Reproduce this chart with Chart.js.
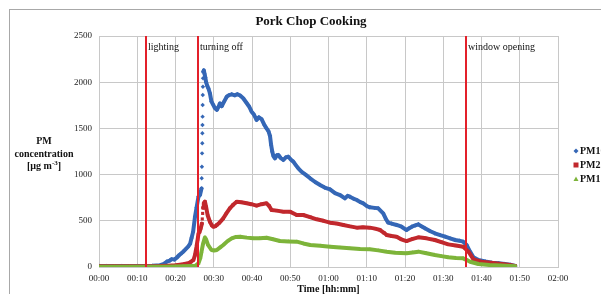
<!DOCTYPE html>
<html>
<head>
<meta charset="utf-8">
<script src="https://cdn.jsdelivr.net/npm/chart.js@4/dist/chart.umd.min.js"></script>
<style>
  html, body { margin: 0; padding: 0; background: #fff; }
  #wrap { width: 601px; height: 294px; position: relative; }
</style>
</head>
<body>
<div id="wrap"><canvas id="pmChart"></canvas></div>
<script>
// Waktu dalam menit sejak mulai, nilai dalam µg m-3
const pm10Minutes = [0, 2, 4, 6, 8, 10, 12, 14, 16, 17, 17.7, 18.5, 19, 19.7, 20.3, 21, 21.6, 22, 22.6, 23.3, 23.8, 24.2, 24.6, 25.1, 25.5, 26, 26.4, 26.8,
  26.85, 26.9, 26.95, 27.0, 27.02, 27.05, 27.08, 27.1, 27.13, 27.17, 27.2, 27.25, 27.4, 27.6, 27.8, 28.0, 28.3, 28.6, 29.0, 29.4, 29.8, 30.3, 30.8,
  31.2, 31.6, 32.1, 32.7, 33.4, 34.0, 34.7, 35.5, 36.2, 36.9, 37.7, 38.5, 39.2, 39.9, 40.5, 41.2, 41.8, 42.5, 43.2, 43.8, 44.3, 44.7, 45.0, 45.3,
  45.6, 46.0, 46.5, 46.9, 47.5, 48.2, 48.8, 49.5, 50.2, 50.8, 51.5, 52.1, 53, 54, 55.2, 56.5, 57.8, 59, 60.4, 61.7, 63, 64.3, 65, 65.6, 66.5, 67.4,
  68.2, 69.1, 70, 70.8, 72, 73, 74.3, 75, 75.6, 76.5, 77.8, 79.1, 80.4, 81.1, 81.8, 82.7, 83.5, 84.3, 85.2, 86.5, 87.8, 89.2, 90.5, 91.8, 93.1,
  94.2, 95.2, 96.1, 97, 97.9, 99.2, 101, 102.7, 104.5, 106.1, 107.5, 108.8];
const pm10Values = [12, 12, 10, 12, 10, 12, 12, 14, 20, 35, 57, 70, 85, 80, 100, 130, 150, 165, 190, 220, 250, 314, 380, 545, 640, 760, 780, 850,
  960, 1085, 1230, 1340, 1447, 1537, 1627, 1753, 1861, 1951, 2042, 2114, 2130, 2090, 2050, 2000, 1960, 1934, 1880, 1790, 1760, 1720, 1700,
  1730, 1770, 1740, 1790, 1843, 1860, 1869, 1858, 1870, 1855, 1826, 1780, 1740, 1681, 1650, 1591, 1620, 1600, 1540, 1500, 1470, 1420, 1320, 1248,
  1200, 1176, 1210, 1212, 1180, 1158, 1185, 1194, 1160, 1140, 1100, 1068, 1030, 1000, 960, 920, 887, 860, 841, 800, 779, 743, 770, 761, 740, 725,
  705, 689, 660, 646, 640, 635, 581, 520, 480, 470, 455, 436, 400, 420, 436, 450, 462, 440, 419, 390, 365, 345, 328, 310, 292,
  285, 274, 238, 166, 105, 76, 60, 47, 40, 32, 25, 11];

const pm25Minutes = [0, 4, 8, 12, 16, 18, 20, 20.7, 22, 23.3, 24, 24.7, 25.1, 25.5, 25.8, 26.0, 26.3, 26.6, 26.9, 27.0, 27.1, 27.2, 27.4, 27.7,
  28.0, 28.4, 29.0, 29.5, 29.9, 30.4, 30.8, 31.5, 32.5, 33.3, 34.2, 35.0, 36, 37.2, 38.6, 39.8, 41.2, 42.5, 43.8, 44.5, 45.1, 46.5, 48.2, 49.9,
  51.7, 53.4, 55.2, 56.9, 58.7, 60.4, 62.1, 63.9, 65.6, 67.4, 69, 70.8, 72.2, 73.5, 74.5, 75.2, 76.5, 77.8, 79, 80.4, 82, 83.5, 85.6, 87.8, 89.5,
  91.3, 93.3, 95.2, 96.6, 97.9, 100, 102.5, 105.3, 107, 108.8];
const pm25Values = [8, 8, 8, 8, 10, 14, 18, 22, 30, 40, 55, 76, 130, 220, 300, 360, 380, 420, 470, 520, 580, 640, 690, 707,
  650, 560, 490, 450, 436, 440, 455, 480, 527, 580, 635, 670, 707, 700, 689, 680, 664, 680, 689, 660, 617, 610, 599, 599,
  563, 563, 540, 516, 500, 480, 470, 455, 440, 426, 430, 426, 415, 400, 370, 346, 335, 328, 300, 281, 305, 321, 310, 292, 270,
  245, 232, 220, 166, 83, 57, 45, 32, 24, 11];

const pm1Minutes = [0, 4, 8, 12, 16, 20, 22, 24, 25.1, 26, 26.5, 26.8, 27.2, 27.7, 28.0, 28.5, 29.4, 30.1, 30.8, 31.6, 32.5, 33.6, 34.7, 35.8,
  36.9, 38.6, 40.3, 42, 43.8, 45.5, 47.3, 49.5, 51.7, 53.4, 55.2, 57.8, 60.4, 63, 65.6, 68.2, 70.8, 73, 75.2, 77.4, 80.4, 82, 83.5, 85.6, 87.8,
  89.5, 91.3, 93.3, 95.2, 96.2, 97, 99.2, 102, 105, 108.8];
const pm1Values = [3, 3, 3, 3, 4, 6, 8, 10, 11, 40, 100, 166, 250, 320, 300, 240, 184, 178, 184, 210, 238, 280, 310, 325,
  328, 318, 310, 312, 317, 300, 281, 277, 274, 255, 238, 230, 220, 210, 202, 195, 191, 180, 166, 155, 148, 158, 166, 148, 130,
  118, 105, 98, 94, 75, 57, 32, 22, 15, 8];

const seriesNames = ['PM10', 'PM2.5', 'PM1'];
const seriesColors = ['#3567b6', '#c1282d', '#7db43a'];
const seriesMarkers = ['rectRot', 'rect', 'triangle'];

const eventMinutes = [12.3, 26, 96];
const eventLabels = ['lighting', 'turning off', 'window opening'];

const yTicks = [0, 500, 1000, 1500, 2000, 2500];

const SERIF = '"Liberation Serif", "DejaVu Serif", serif';

function toPoints(mins, vals) {
    return mins.map((m, i) => ({ x: m, y: vals[i] }));
}

function hhmm(v) {
    const h = Math.floor(v / 60), m = Math.round(v % 60);
    return String(h).padStart(2, '0') + ':' + String(m).padStart(2, '0');
}

// Garis terputus untuk bagian naik tajam (titik terpisah seperti di gambar)
function segColor(color) {
    return ctx => {
        const dx = ctx.p1.parsed.x - ctx.p0.parsed.x;
        const dy = Math.abs(ctx.p1.parsed.y - ctx.p0.parsed.y);
        return dx > 0 && dy / dx > 400 ? 'rgba(0,0,0,0)' : color;
    };
}

function makeDataset(i, mins, vals, order) {
    return {
        label: seriesNames[i],
        data: toPoints(mins, vals),
        showLine: true,
        borderColor: seriesColors[i],
        backgroundColor: seriesColors[i],
        borderWidth: 4,
        borderJoinStyle: 'round',
        borderCapStyle: 'round',
        pointStyle: seriesMarkers[i],
        pointRadius: 2.2,
        pointBorderWidth: 0,
        order: order,
        segment: { borderColor: segColor(seriesColors[i]) }
    };
}

const decorPlugin = {
    id: 'decor',
    beforeDraw(chart) {
        const c = chart.ctx;
        c.save();
        c.strokeStyle = '#a8a8a8';
        c.lineWidth = 1;
        c.strokeRect(9.5, 9.5, 700, 400);
        c.restore();
    },
    afterDatasetsDraw(chart) {
        const c = chart.ctx;
        const x = chart.scales.x, area = chart.chartArea;
        c.save();
        c.strokeStyle = '#e3202a';
        c.lineWidth = 2;
        c.fillStyle = '#111';
        c.font = '10px ' + SERIF;
        c.textBaseline = 'middle';
        eventMinutes.forEach((m, i) => {
            const px = Math.round(x.getPixelForValue(m));
            c.beginPath();
            c.moveTo(px, area.top);
            c.lineTo(px, area.bottom);
            c.stroke();
            c.fillText(eventLabels[i], px + 2, 47);
        });
        c.restore();
    },
    afterDraw(chart) {
        const c = chart.ctx;
        const area = chart.chartArea;
        c.save();
        c.fillStyle = '#111';
        c.textAlign = 'center';
        c.textBaseline = 'middle';
        c.font = 'bold 13px ' + SERIF;
        c.fillText('Pork Chop Cooking', 311, 22);

        // judul sumbu y
        c.font = 'bold 10px ' + SERIF;
        c.fillText('PM', 44, 141);
        c.fillText('concentration', 44, 154);
        const a = '[µg m', sup = '-3', b = ']';
        c.font = 'bold 10px ' + SERIF;
        const wa = c.measureText(a).width, wb = c.measureText(b).width;
        c.font = 'bold 7px ' + SERIF;
        const ws = c.measureText(sup).width;
        let sx = 44 - (wa + ws + wb) / 2;
        c.textAlign = 'left';
        c.font = 'bold 10px ' + SERIF;
        c.fillText(a, sx, 166);
        c.font = 'bold 7px ' + SERIF;
        c.fillText(sup, sx + wa, 163);
        c.font = 'bold 10px ' + SERIF;
        c.fillText(b, sx + wa + ws, 166);

        // judul sumbu x
        c.textAlign = 'center';
        c.fillText('Time [hh:mm]', (area.left + area.right) / 2, 289);

        // legenda
        const ly = [151, 165, 179];
        seriesNames.forEach((n, i) => {
            c.fillStyle = seriesColors[i];
            const mx = 576, my = ly[i];
            c.beginPath();
            if (i === 0) {
                c.moveTo(mx, my - 2.5); c.lineTo(mx + 2.5, my); c.lineTo(mx, my + 2.5); c.lineTo(mx - 2.5, my);
            } else if (i === 1) {
                c.rect(mx - 2.5, my - 2.5, 5, 5);
            } else {
                c.moveTo(mx, my - 2.5); c.lineTo(mx + 2.5, my + 2); c.lineTo(mx - 2.5, my + 2);
            }
            c.closePath();
            c.fill();
            c.fillStyle = '#111';
            c.textAlign = 'left';
            c.font = 'bold 10px ' + SERIF;
            c.fillText(n, 580, my);
        });
        c.restore();
    }
};

new Chart(document.getElementById('pmChart'), {
    type: 'scatter',
    data: {
        datasets: [
            makeDataset(0, pm10Minutes, pm10Values, 3),
            makeDataset(1, pm25Minutes, pm25Values, 2),
            makeDataset(2, pm1Minutes, pm1Values, 1)
        ]
    },
    options: {
        responsive: true,
        maintainAspectRatio: false,
        animation: false,
        layout: { padding: { top: 36, right: 43, bottom: 0, left: 0 } },
        plugins: { legend: { display: false }, tooltip: { enabled: false } },
        scales: {
            x: {
                type: 'linear',
                min: 0, max: 120,
                afterFit: s => { s.height = 27; },
                grid: { color: '#c8c8c8', drawTicks: false },
                border: { color: '#c8c8c8' },
                ticks: {
                    stepSize: 10, padding: 6, maxRotation: 0,
                    color: '#222', font: { family: SERIF, size: 9 },
                    callback: v => hhmm(v)
                }
            },
            y: {
                min: 0, max: 2500,
                afterFit: s => { s.width = 99; },
                afterBuildTicks: s => { s.ticks = yTicks.map(v => ({ value: v })); },
                grid: { color: '#c8c8c8', drawTicks: false },
                border: { color: '#c8c8c8' },
                ticks: { padding: 7, color: '#222', font: { family: SERIF, size: 9 }, callback: v => String(v) }
            }
        }
    },
    plugins: [decorPlugin]
});
</script>
</body>
</html>
